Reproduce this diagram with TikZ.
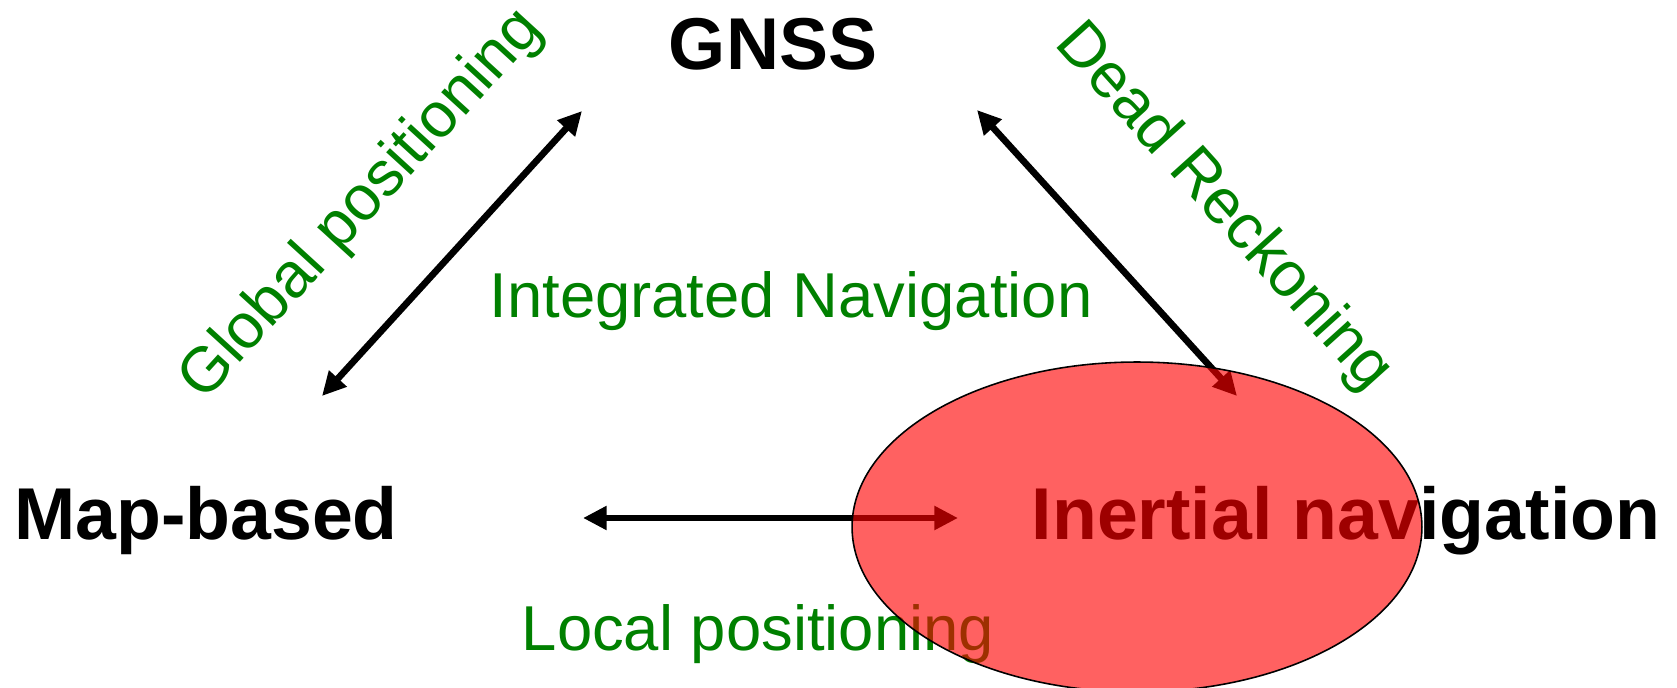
\documentclass[tikz,border=0pt]{standalone}
\usepackage{fontspec}
\setmainfont{Liberation Sans}
\usetikzlibrary{arrows.meta}
\definecolor{techgreen}{RGB}{0,128,0}

\begin{document}
\begin{tikzpicture}[x=0.02cm, y=-0.02cm]
	\tikzset{>={Triangle[length=13.5pt,width=13pt]}}
	\tikzset{
		system/.style={font=\fontsize{41.8}{50}\selectfont\bfseries, inner sep=0pt, anchor=base},
		technique/.style={font=\fontsize{36.1}{43}\selectfont, text=techgreen, inner sep=0pt, anchor=base},
		link/.style={<->, line width=3.8pt}
	}
	\useasboundingbox (0,0) rectangle (1677,688);

	\node[system] (gnss) at (773,70) {GNSS};
	\node[system] (map) at (206,540) {Map-based};
	\node[system] (ins) at (1346,540) {Inertial navigation};

	\node[technique] (integ) at (791,318) {Integrated Navigation};
	\node[technique] (local) at (758,651) {Local positioning};
	\node[technique, anchor=center, rotate=47.6] (global) at (362,205) {Global positioning};
	\node[technique, anchor=center, rotate=-48] (dead) at (1223,208) {Dead Reckoning};

	\coordinate (gnssL) at (582,111);
	\coordinate (mapT) at (322,396);
	\coordinate (gnssR) at (977,110);
	\coordinate (insT) at (1237,396);
	\coordinate (mapR) at (583,518);
	\coordinate (insL) at (958,518);

	\draw[link] (mapT) -- (gnssL);
	\draw[link] (gnssR) -- (insT);
	\draw[link] (mapR) -- (insL);

	% translucent highlight over the inertial branch
	\draw[line width=0.9pt, fill=red, fill opacity=0.62] (1137,527) ellipse [x radius=5.7cm, y radius=3.3cm];
\end{tikzpicture}
\end{document}
